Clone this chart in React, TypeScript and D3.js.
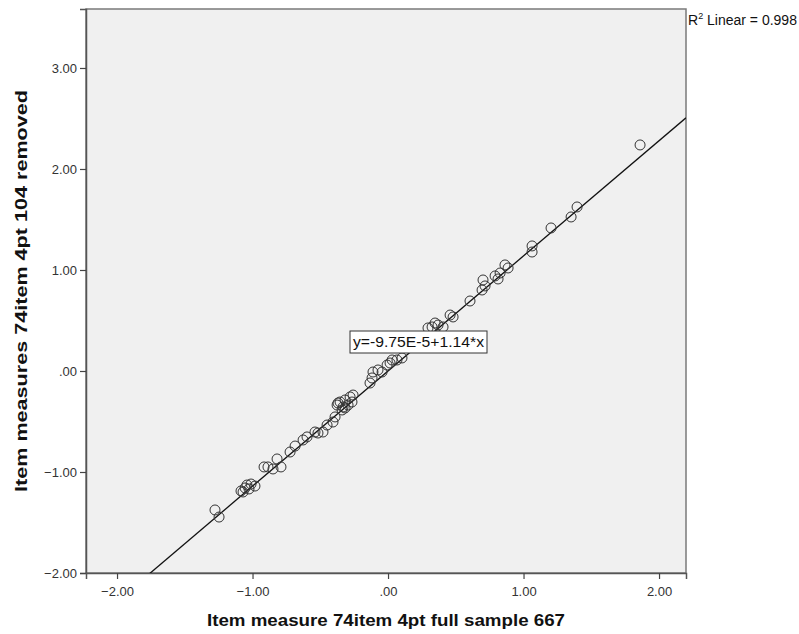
import React, { useEffect, useRef } from 'react';
import * as d3 from 'd3';

// item measures: full sample (x) vs 104 removed (y)
const xValues = [
  -1.277, -1.247, -1.070, -1.055, -1.041, -1.011, -0.982, -1.085, -1.026,
  -0.915, -0.886, -0.849, -0.819, -0.790, -0.723, -0.686, -0.627, -0.598,
  -0.539, -0.517, -0.480, -0.450, -0.406, -0.391, -0.369, -0.332, -0.376,
  -0.354, -0.317, -0.280, -0.258, -0.266, -0.295, -0.317, -0.339,
  -0.133, -0.118, -0.111, -0.074, -0.044, -0.007, 0.015, 0.030, 0.066, 0.103,
  0.295, 0.347, 0.369, 0.406, 0.325, 0.458, 0.480, 0.605, 0.694, 0.716,
  0.701, 0.790, 0.827, 0.812, 0.863, 0.886, 1.063, 1.063, 1.203, 1.351,
  1.395, 1.860
];
const yValues = [
  -1.376, -1.446, -1.198, -1.158, -1.129, -1.119, -1.139, -1.188, -1.168,
  -0.950, -0.950, -0.970, -0.871, -0.950, -0.802, -0.743, -0.683, -0.653,
  -0.604, -0.614, -0.604, -0.535, -0.505, -0.455, -0.317, -0.356, -0.337,
  -0.307, -0.287, -0.257, -0.238, -0.307, -0.337, -0.366, -0.386,
  -0.119, -0.069, -0.010, 0.010, -0.010, 0.059, 0.079, 0.109, 0.109, 0.129,
  0.426, 0.475, 0.455, 0.436, 0.436, 0.554, 0.535, 0.693, 0.802, 0.842,
  0.901, 0.941, 0.970, 0.911, 1.050, 1.020, 1.238, 1.178, 1.416, 1.525,
  1.624, 2.238
];
const xTicks = [-2, -1, 0, 1, 2];
const yTicks = [-2, -1, 0, 1, 2, 3];
const fitIntercept = -9.75e-5;
const fitSlope = 1.14;
const fitLabel = 'y=-9.75E-5+1.14*x';
const r2Label = ' Linear = 0.998';
const xTitle = 'Item measure 74item 4pt full sample 667';
const yTitle = 'Item measures 74item 4pt 104 removed';

const fmt = (d: number) => d3.format('.2f')(d).replace(/^(-?)0\./, '$1.');

export default function App() {
  const ref = useRef<SVGSVGElement>(null);

  useEffect(() => {
    const svg = d3.select(ref.current);
    svg.selectAll('*').remove();

    const left = 86, right = 686, top = 9, bottom = 573;
    const x = d3.scaleLinear().domain([-2.229, 2.199]).range([left, right]);
    const y = d3.scaleLinear().domain([-2, 3.584]).range([bottom, top]);

    svg.append('defs').append('clipPath').attr('id', 'plotclip')
      .append('rect')
        .attr('x', left).attr('y', top)
        .attr('width', right - left).attr('height', bottom - top);

    // plot background + frame
    svg.append('rect')
      .attr('x', left).attr('y', top)
      .attr('width', right - left).attr('height', bottom - top)
      .attr('fill', '#f0f0f0')
      .attr('stroke', '#7a7a7a')
      .attr('stroke-width', 1.5);

    const yAxis = svg.append('g')
      .attr('transform', 'translate(' + left + ',0)')
      .call(d3.axisLeft(y).tickValues(yTicks).tickSize(6).tickFormat(fmt as any));
    const xAxis = svg.append('g')
      .attr('transform', 'translate(0,' + bottom + ')')
      .call(d3.axisBottom(x).tickValues(xTicks).tickSize(6).tickFormat(fmt as any));

    [xAxis, yAxis].forEach(g => {
      g.select('.domain').attr('stroke', '#555').attr('stroke-width', 1.5);
      g.selectAll('.tick line').attr('stroke', '#444').attr('stroke-width', 1.2);
      g.selectAll('.tick text')
        .attr('font-family', 'Liberation Sans, Arial, sans-serif')
        .attr('font-size', 13)
        .attr('fill', '#333');
    });
    xAxis.selectAll('.tick text').attr('dy', '1.05em');

    // fit line
    const xs = x.domain();
    const line = d3.line<number>()
      .x(d => x(d))
      .y(d => y(fitIntercept + fitSlope * d));
    svg.append('path')
      .attr('clip-path', 'url(#plotclip)')
      .attr('d', line(xs))
      .attr('fill', 'none')
      .attr('stroke', '#111')
      .attr('stroke-width', 1.3);

    // points
    svg.append('g')
      .selectAll('circle')
      .data(xValues.map((v, i) => [v, yValues[i]]))
      .join('circle')
        .attr('cx', d => x(d[0]))
        .attr('cy', d => y(d[1]))
        .attr('r', 5)
        .attr('fill', 'none')
        .attr('stroke', '#333')
        .attr('stroke-width', 1);

    // equation label
    const lx = 350, ly = 331;
    svg.append('rect')
      .attr('x', lx).attr('y', ly)
      .attr('width', 137).attr('height', 22)
      .attr('fill', '#fff')
      .attr('stroke', '#333');
    svg.append('text')
      .attr('x', lx + 3).attr('y', ly + 16)
      .attr('font-family', 'Liberation Sans, Arial, sans-serif')
      .attr('font-size', 14)
      .attr('textLength', 131)
      .attr('lengthAdjust', 'spacingAndGlyphs')
      .attr('fill', '#111')
      .text(fitLabel);

    // R2 note
    const r2 = svg.append('text')
      .attr('x', right + 2).attr('y', 25)
      .attr('font-family', 'Liberation Sans, Arial, sans-serif')
      .attr('font-size', 14)
      .attr('fill', '#111');
    r2.append('tspan').text('R');
    r2.append('tspan').attr('font-size', 9).attr('dy', -6).text('2');
    r2.append('tspan').attr('dy', 6).text(r2Label);

    // titles
    svg.append('text')
      .attr('x', (left + right) / 2).attr('y', 626)
      .attr('text-anchor', 'middle')
      .attr('font-family', 'Liberation Sans, Arial, sans-serif')
      .attr('font-weight', 'bold')
      .attr('font-size', 17)
      .attr('textLength', 358)
      .attr('lengthAdjust', 'spacingAndGlyphs')
      .attr('fill', '#111')
      .text(xTitle);
    svg.append('text')
      .attr('transform', 'translate(27,' + (top + bottom) / 2 + ') rotate(-90)')
      .attr('text-anchor', 'middle')
      .attr('font-family', 'Liberation Sans, Arial, sans-serif')
      .attr('font-weight', 'bold')
      .attr('font-size', 17)
      .attr('textLength', 402)
      .attr('lengthAdjust', 'spacingAndGlyphs')
      .attr('fill', '#111')
      .text(yTitle);
  }, []);

  return (
    <svg ref={ref} width={799} height={634}
      style={{ position: 'absolute', left: 0, top: 0, background: '#fff' }} />
  );
}
